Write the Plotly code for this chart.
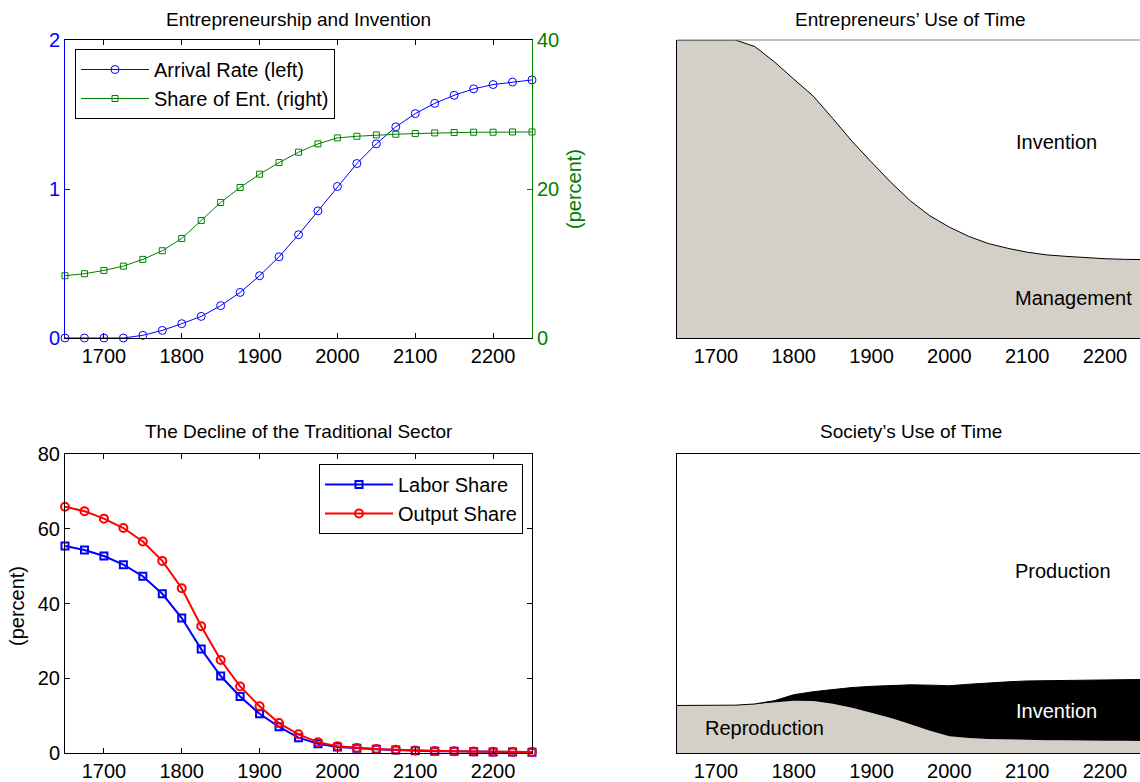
import plotly.graph_objects as go

# ---- data -------------------------------------------------------------
years = [1650, 1675, 1700, 1725, 1750, 1775, 1800, 1825, 1850, 1875, 1900,
         1925, 1950, 1975, 2000, 2025, 2050, 2075, 2100, 2125, 2150, 2175,
         2200, 2225, 2250]

# Entrepreneurship and invention
arrival_rate = [0.0, 0.0, 0.0, 0.0, 0.018, 0.051, 0.096, 0.145, 0.217, 0.306,
                0.418, 0.545, 0.693, 0.853, 1.017, 1.171, 1.303, 1.417, 1.506,
                1.575, 1.629, 1.672, 1.701, 1.718, 1.732]
ent_share = [8.36, 8.63, 9.07, 9.65, 10.55, 11.71, 13.36, 15.78, 18.19, 20.20,
             21.99, 23.55, 24.94, 26.06, 26.86, 27.08, 27.26, 27.35, 27.44,
             27.53, 27.58, 27.62, 27.62, 27.66, 27.66]

# Entrepreneurs' time devoted to management (remainder is invention)
management = [1.0, 1.0, 1.0, 1.0, 0.978, 0.927, 0.869, 0.812, 0.737, 0.660,
              0.590, 0.522, 0.460, 0.410, 0.372, 0.341, 0.317, 0.301, 0.288,
              0.279, 0.274, 0.269, 0.266, 0.264, 0.263]

# Traditional sector (percent)
labor_share = [55.4, 54.3, 52.7, 50.4, 47.3, 42.6, 36.1, 27.8, 20.6, 15.1,
               10.5, 7.0, 4.1, 2.5, 1.6, 1.25, 1.0, 0.8, 0.6, 0.5, 0.45,
               0.35, 0.3, 0.25, 0.2]
output_share = [65.9, 64.7, 62.7, 60.2, 56.6, 51.4, 44.1, 33.9, 24.9, 17.8,
                12.5, 8.0, 5.0, 2.9, 1.8, 1.35, 1.1, 0.85, 0.65, 0.55, 0.45,
                0.4, 0.35, 0.3, 0.25]

# Society's time: reproduction and invention (remainder is production)
reproduction = [0.159, 0.159, 0.159, 0.160, 0.163, 0.169, 0.175, 0.174, 0.165,
                0.151, 0.135, 0.117, 0.096, 0.074, 0.056, 0.050, 0.047, 0.045,
                0.044, 0.043, 0.043, 0.041, 0.041, 0.041, 0.040]
invention = [0.0, 0.0, 0.0, 0.0, 0.001, 0.006, 0.020, 0.031, 0.047, 0.068,
             0.088, 0.109, 0.132, 0.153, 0.169, 0.180, 0.188, 0.193, 0.197,
             0.199, 0.200, 0.202, 0.203, 0.203, 0.206]

year_ticks = [1700, 1800, 1900, 2000, 2100, 2200]

# ---- styling ----------------------------------------------------------
FONT = "Liberation Sans, Arial, sans-serif"
FS_TITLE = 19
FS = 20
BLUE, GREEN, RED = "#0000FF", "#008000", "#FF0000"
GRAY = "#D4D0C8"
W, H = 1140, 782


def px_x(p):
    return p / W


def px_y(p):
    return 1 - p / H


left_dom = [px_x(65), px_x(532)]
right_dom = [px_x(677), 1.0]
top_dom = [px_y(338), px_y(40)]
bot_dom = [px_y(753), px_y(454)]

fig = go.Figure()

# Top-left: arrival rate and share of entrepreneurs
fig.add_trace(go.Scatter(
    x=years, y=arrival_rate, name="Arrival Rate (left)", mode="lines+markers",
    line=dict(color=BLUE, width=1),
    marker=dict(symbol="circle-open", size=8, color=BLUE, line=dict(width=1)),
    xaxis="x", yaxis="y", legend="legend", cliponaxis=False))
fig.add_trace(go.Scatter(
    x=years, y=ent_share, name="Share of Ent. (right)", mode="lines+markers",
    line=dict(color=GREEN, width=1),
    marker=dict(symbol="square-open", size=6, color=GREEN, line=dict(width=1)),
    xaxis="x", yaxis="y2", legend="legend", cliponaxis=False))

# Top-right: entrepreneurs' use of time
fig.add_trace(go.Scatter(
    x=years, y=management, mode="lines", fill="tozeroy", fillcolor=GRAY,
    line=dict(color="black", width=1), showlegend=False,
    xaxis="x2", yaxis="y3"))

# Bottom-left: traditional sector
fig.add_trace(go.Scatter(
    x=years, y=labor_share, name="Labor Share", mode="lines+markers",
    line=dict(color=BLUE, width=2),
    marker=dict(symbol="square-open", size=7, color=BLUE, line=dict(width=2)),
    xaxis="x3", yaxis="y4", legend="legend2", cliponaxis=False))
fig.add_trace(go.Scatter(
    x=years, y=output_share, name="Output Share", mode="lines+markers",
    line=dict(color=RED, width=2),
    marker=dict(symbol="circle-open", size=8, color=RED, line=dict(width=2)),
    xaxis="x3", yaxis="y4", legend="legend2", cliponaxis=False))

# Bottom-right: society's use of time (stacked areas)
fig.add_trace(go.Scatter(
    x=years, y=reproduction, mode="lines", stackgroup="society",
    fillcolor=GRAY, line=dict(width=0, color=GRAY), showlegend=False,
    xaxis="x4", yaxis="y5"))
fig.add_trace(go.Scatter(
    x=years, y=invention, mode="lines", stackgroup="society",
    fillcolor="black", line=dict(width=1, color="black"), showlegend=False,
    xaxis="x4", yaxis="y5"))

tickfont = dict(family=FONT, size=FS, color="black")

common_x = dict(range=[1650, 2250], tickvals=year_ticks, showgrid=False,
                zeroline=False, showline=True, linecolor="black", linewidth=1,
                tickfont=tickfont, automargin=False)
common_y = dict(showgrid=False, zeroline=False, automargin=False)

legend_style = dict(xanchor="left", yanchor="top", bgcolor="white",
                    bordercolor="black", borderwidth=1,
                    font=dict(family=FONT, size=FS, color="black"),
                    itemwidth=68, tracegroupgap=0, traceorder="normal")

fig.update_layout(
    width=W, height=H,
    margin=dict(l=0, r=0, t=0, b=0, autoexpand=False),
    paper_bgcolor="white", plot_bgcolor="white",
    font=dict(family=FONT, size=FS, color="black"),
    xaxis=dict(common_x, domain=left_dom, anchor="y", ticks="inside",
               ticklen=5, tickcolor="black", mirror="ticks"),
    yaxis=dict(common_y, domain=top_dom, anchor="x", range=[0, 2],
               tickvals=[0, 1, 2], ticks="inside", ticklen=5, tickcolor=BLUE,
               showline=True, linecolor=BLUE, linewidth=1,
               tickfont=dict(family=FONT, size=FS, color=BLUE)),
    yaxis2=dict(common_y, overlaying="y", side="right", anchor="x",
                range=[0, 40], tickvals=[0, 20, 40], ticks="inside",
                ticklen=5, tickcolor=GREEN, showline=True, linecolor=GREEN,
                linewidth=1,
                tickfont=dict(family=FONT, size=FS, color=GREEN)),
    xaxis2=dict(common_x, domain=right_dom, anchor="y3", range=[1650, 2245],
                ticks=""),
    yaxis3=dict(common_y, domain=top_dom, anchor="x2", range=[0, 1],
                showline=True, linecolor="black", showticklabels=False,
                ticks=""),
    xaxis3=dict(common_x, domain=left_dom, anchor="y4", ticks="inside",
                ticklen=5, tickcolor="black", mirror="ticks"),
    yaxis4=dict(common_y, domain=bot_dom, anchor="x3", range=[0, 80],
                tickvals=[0, 20, 40, 60, 80], ticks="inside", ticklen=5,
                tickcolor="black", showline=True, linecolor="black",
                mirror="ticks", tickfont=tickfont),
    xaxis4=dict(common_x, domain=right_dom, anchor="y5", range=[1650, 2245],
                ticks="", mirror=True),
    yaxis5=dict(common_y, domain=bot_dom, anchor="x4", range=[0, 1],
                showline=True, linecolor="black", showticklabels=False,
                ticks=""),
    legend=dict(legend_style, x=px_x(75), y=px_y(49)),
    legend2=dict(legend_style, x=px_x(319), y=px_y(464)),
    shapes=[
        # top border of the entrepreneurs' panel
        dict(type="line", xref="x2 domain", yref="y3 domain", x0=0, x1=1,
             y0=1, y1=1, line=dict(color="#808080", width=1)),
    ],
)

titles = [
    ("Entrepreneurship and Invention", (65 + 532) / 2, 20),
    ("Entrepreneurs\u2019 Use of Time", (677 + 1144) / 2, 20),
    ("The Decline of the Traditional Sector", (65 + 532) / 2, 432),
    ("Society\u2019s Use of Time", (677 + 1144) / 2, 432),
]
annotations = []
for text, cx, cy in titles:
    annotations.append(dict(text=text, x=px_x(cx), y=px_y(cy), xref="paper",
                            yref="paper", showarrow=False, xanchor="center",
                            yanchor="middle",
                            font=dict(family=FONT, size=FS_TITLE,
                                      color="black")))

# axis titles
annotations.append(dict(text="(percent)", x=px_x(574), y=px_y(189),
                        xref="paper", yref="paper", showarrow=False,
                        textangle=-90, xanchor="center", yanchor="middle",
                        font=dict(family=FONT, size=FS, color=GREEN)))
annotations.append(dict(text="(percent)", x=px_x(17), y=px_y(606),
                        xref="paper", yref="paper", showarrow=False,
                        textangle=-90, xanchor="center", yanchor="middle",
                        font=dict(family=FONT, size=FS, color="black")))

# area labels
area_labels = [
    ("Invention", 2138, 0.659, "x2", "y3", "black"),
    ("Management", 2159, 0.135, "x2", "y3", "black"),
    ("Production", 2146, 0.609, "x4", "y5", "black"),
    ("Invention", 2138, 0.1415, "x4", "y5", "white"),
    ("Reproduction", 1762, 0.083, "x4", "y5", "black"),
]
for text, x, y, xr, yr, col in area_labels:
    annotations.append(dict(text=text, x=x, y=y, xref=xr, yref=yr,
                            showarrow=False, xanchor="center",
                            yanchor="middle",
                            font=dict(family=FONT, size=FS, color=col)))

fig.update_layout(annotations=annotations)

fig.write_html("out.html")
